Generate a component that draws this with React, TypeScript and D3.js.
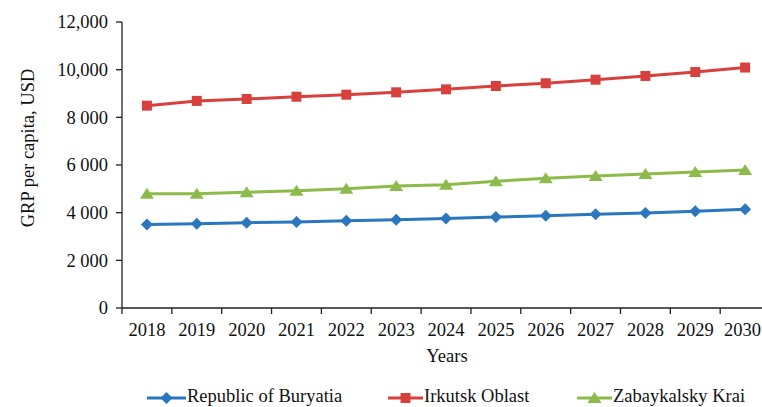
import React from "react";
import * as d3 from "d3";

const years = ["2018","2019","2020","2021","2022","2023","2024","2025","2026","2027","2028","2029","2030"];
const buryatia = [3500, 3540, 3580, 3610, 3665, 3705, 3760, 3815, 3875, 3930, 3985, 4055, 4140];
const irkutsk = [8490, 8690, 8770, 8865, 8950, 9050, 9175, 9315, 9430, 9580, 9735, 9900, 10090];
const zabaykalsky = [4790, 4790, 4855, 4920, 5005, 5120, 5175, 5315, 5440, 5540, 5625, 5710, 5790];
const yTicks = [0, 2000, 4000, 6000, 8000, 10000, 12000];
const yTickLabels = ["0", "2 000", "4 000", "6 000", "8 000", "10,000", "12,000"];
const seriesNames = ["Republic of Buryatia", "Irkutsk Oblast", "Zabaykalsky Krai"];
const colors = ["#2a77bf", "#d8403d", "#8dbb4b"];

const W = 762, H = 407;
const left = 122, bottom = 308, top = 22;
const step = 49.85;
const FONT = "'Liberation Serif', 'Times New Roman', serif";
const FS = 18.5;

function Marker({ kind, x, y, color }: { kind: number; x: number; y: number; color: string }) {
  if (kind === 0) {
    const r = 6;
    return <path d={`M${x},${y - r}L${x + r},${y}L${x},${y + r}L${x - r},${y}Z`} fill={color} />;
  }
  if (kind === 1) {
    const s = 10;
    return <rect x={x - s / 2} y={y - s / 2} width={s} height={s} fill={color} />;
  }
  const s = 6;
  return <path d={`M${x},${y - s}L${x + s + 1},${y + s - 1}L${x - s - 1},${y + s - 1}Z`} fill={color} />;
}

export default function App() {
  const x = d3.scaleBand<string>().domain(years).range([left, left + step * years.length]);
  const y = d3.scaleLinear().domain([0, 12000]).range([bottom, top]);
  const cx = (yr: string) => (x(yr) as number) + x.bandwidth() / 2;
  const data = [buryatia, irkutsk, zabaykalsky];
  const line = d3.line<number>().x((_, i) => cx(years[i])).y((v) => y(v));
  const boundaries = years.map((yr) => x(yr) as number).concat([left + step * years.length]);

  const legendItems = [
    { lx: 147, tx: 187 },
    { lx: 388, tx: 424 },
    { lx: 577, tx: 613 },
  ];

  return (
    <svg width={W} height={H} style={{ position: "absolute", left: 0, top: 0, background: "#fff" }}>
      <g fontFamily={FONT} fill="#111">
        {/* y axis */}
        <line x1={left} x2={left} y1={top} y2={bottom} stroke="#222" strokeWidth={1.3} />
        {yTicks.map((t, i) => (
          <g key={t}>
            <line x1={left - 6} x2={left} y1={y(t)} y2={y(t)} stroke="#222" strokeWidth={1.3} />
            <text x={108} y={y(t)} dy="0.35em" textAnchor="end" fontSize={FS}>
              {yTickLabels[i]}
            </text>
          </g>
        ))}
        {/* x axis */}
        <line x1={left} x2={W + 10} y1={bottom} y2={bottom} stroke="#222" strokeWidth={1.3} />
        {boundaries.map((b, i) => (
          <line key={i} x1={b} x2={b} y1={bottom} y2={bottom + 6} stroke="#222" strokeWidth={1.3} />
        ))}
        {years.map((yr, i) => {
          const last = i === years.length - 1;
          return (
            <text
              key={yr}
              x={last ? W - 1 : cx(yr)}
              y={336}
              textAnchor={last ? "end" : "middle"}
              fontSize={FS}
            >
              {yr}
            </text>
          );
        })}
        <text x={447} y={362} textAnchor="middle" fontSize={FS}>Years</text>
        <text transform={`translate(34,148) rotate(-90)`} textAnchor="middle" fontSize={FS}>
          GRP per capita, USD
        </text>

        {/* series */}
        {data.map((vals, si) => (
          <g key={si}>
            <path d={line(vals) || ""} fill="none" stroke={colors[si]} strokeWidth={3} />
            {vals.map((v, i) => (
              <Marker key={i} kind={si} x={cx(years[i])} y={y(v)} color={colors[si]} />
            ))}
          </g>
        ))}

        {/* legend */}
        {legendItems.map((it, si) => (
          <g key={si}>
            <line x1={it.lx} x2={it.tx - 1} y1={398} y2={398} stroke={colors[si]} strokeWidth={3} />
            <Marker kind={si} x={(it.lx + it.tx - 1) / 2} y={398} color={colors[si]} />
            <text x={it.tx} y={402} fontSize={FS}>{seriesNames[si]}</text>
          </g>
        ))}
      </g>
    </svg>
  );
}
